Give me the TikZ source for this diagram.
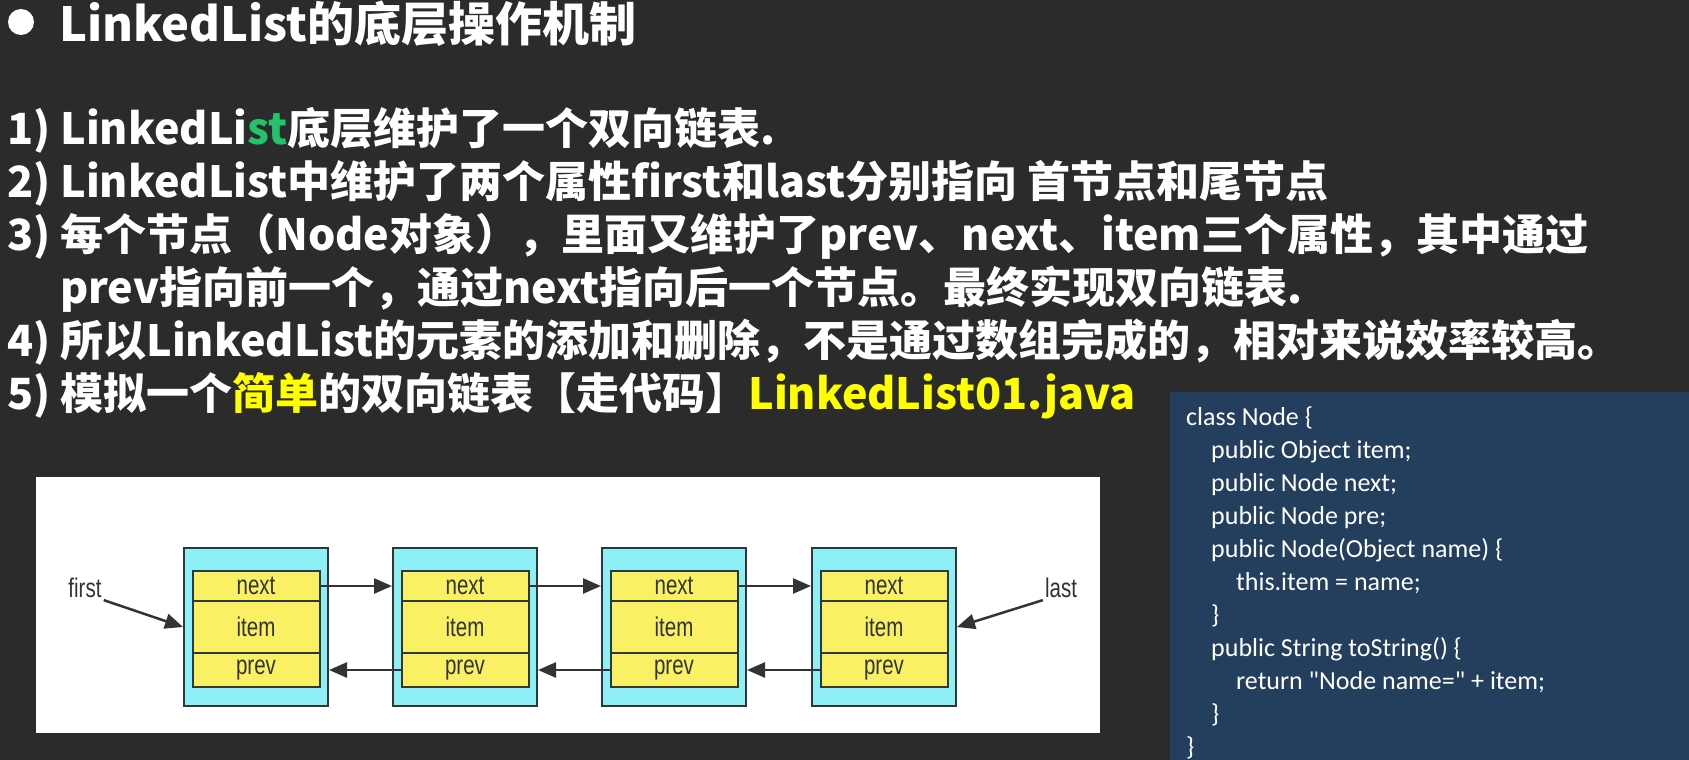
\documentclass[tikz,border=0pt]{standalone}
\usepackage{fontspec}
\usetikzlibrary{arrows.meta}

\newfontfamily\cnfont{Noto Sans CJK SC}
\newfontfamily\codefont{Carlito}
\newfontfamily\diagfont{Liberation Sans}[FakeStretch=0.76]

\definecolor{board}{HTML}{2B2B2B}
\definecolor{codebg}{HTML}{243E5D}
\definecolor{cyanbox}{HTML}{8EEFF6}
\definecolor{fieldyellow}{HTML}{F9F063}
\definecolor{edge}{HTML}{2E3838}
\definecolor{inkgray}{HTML}{333333}
\definecolor{hiyellow}{HTML}{FFFF00}
\definecolor{stgreen}{HTML}{22C36A}

\tikzset{
  titletext/.style={anchor=base west, inner sep=0pt, text=white,
    font=\cnfont\bfseries\fontsize{47}{55}\selectfont},
  itemline/.style={anchor=base west, inner sep=0pt, text=white,
    font=\cnfont\bfseries\fontsize{43}{51}\selectfont},
  outerbox/.style={draw=edge, fill=cyanbox, line width=2pt,
    minimum width=144pt, minimum height=158pt, inner sep=0pt},
  field/.style={draw=edge, fill=fieldyellow, line width=2pt,
    minimum width=127pt, inner sep=0pt, text=inkgray,
    font=\diagfont\fontsize{27}{30}\selectfont},
  tag/.style={inner sep=2pt, text=inkgray,
    font=\diagfont\fontsize{27}{30}\selectfont},
  link/.style={draw=inkgray, line width=2.5pt,
    -{Triangle[length=18pt,width=15pt]}},
  codeline/.style={anchor=base west, inner sep=0pt, text=white,
    font=\codefont\fontsize{26}{31}\selectfont}
}

\begin{document}
\begin{tikzpicture}[x=1pt,y=-1pt]
    % Fondo
    \fill[board] (0,0) rectangle (1689,760);
    \useasboundingbox (0,0) rectangle (1689,760);

    % Titulo
    \fill[white] (21,22) circle (13);
    \node[titletext] (title) at (59,42) {LinkedList的底层操作机制};

    % Puntos
    \node[itemline] (l1) at (7,144) {1) LinkedLi\textcolor{stgreen}{st}底层维护了一个双向链表.};
    \node[itemline] (l2) at (7,197) {2) LinkedList中维护了两个属性first和last分别指向 首节点和尾节点};
    \node[itemline] (l3) at (7,250) {3) 每个节点（Node对象），里面又维护了prev、next、item三个属性，其中通过};
    \node[itemline] (l3b) at (60,303) {prev指向前一个，通过next指向后一个节点。最终实现双向链表.};
    \node[itemline] (l4) at (7,356) {4) 所以LinkedList的元素的添加和删除，不是通过数组完成的，相对来说效率较高。};
    \node[itemline] (l5) at (7,409) {5) 模拟一个\textcolor{hiyellow}{简单}的双向链表【走代码】\textcolor{hiyellow}{LinkedList01.java}};

    % Panel del diagrama
    \fill[white] (36,477) rectangle (1100,733);

    % Nodos de la lista
    \foreach \k/\x in {1/256,2/465,3/674,4/884}{
        \node[outerbox] (o\k) at (\x,627) {};
        \node[field, minimum height=30pt] (n\k) at (\x,586) {next};
        \node[field, minimum height=52pt] (i\k) at (\x,627) {item};
        \node[field, minimum height=34pt] (p\k) at (\x,670) {prev};
    }

    % Enlaces next y prev
    \foreach \a/\b in {1/2,2/3,3/4}{
        \draw[link] (n\a.east) -- (n\a.east -| o\b.west);
        \draw[link] (p\b.west) -- (p\b.west -| o\a.east);
    }

    % first y last
    \node[tag] (first) at (85,588) {first};
    \node[tag] (last) at (1061,588) {last};
    \draw[link] (first.south east) -- (o1.west);
    \draw[link] (last.south west) -- (o4.east);

    % Clase Node
    \fill[codebg] (1170,392) rectangle (1689,760);
    \foreach \ind/\txt [count=\k] in {
        0/class Node \{,
        1/public Object item;,
        1/public Node next;,
        1/public Node pre;,
        1/public Node(Object name) \{,
        2/this.item = name;,
        1/\},
        1/public String toString() \{,
        2/return "Node name=" + item;,
        1/\},
        0/\}}{
        \node[codeline] (c\k) at (1186+25*\ind,392+33*\k) {\txt};
    }
\end{tikzpicture}
\end{document}
